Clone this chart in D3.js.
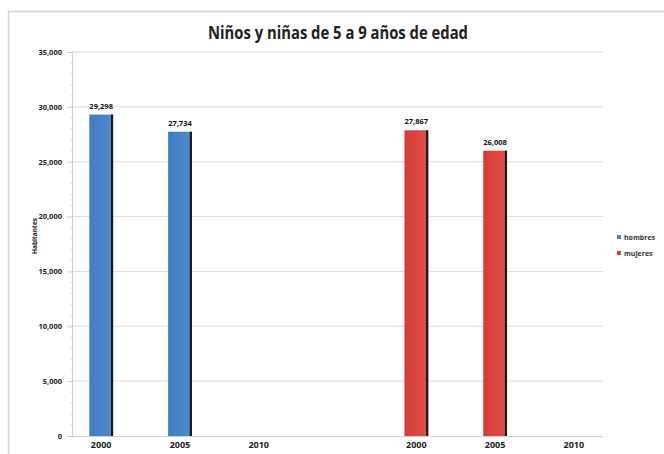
<!DOCTYPE html>
<html><head><meta charset="utf-8">
<script src="https://cdn.jsdelivr.net/npm/d3@7"></script>
<style>body{margin:0;background:#fff}svg{display:block}</style>
</head><body>
<svg id="c" width="664" height="454"></svg>
<script>
const categories = ["2000","2005","2010","","2000 ","2005 ","2010 "];
const catLabels = ["2000","2005","2010","","2000","2005","2010"];
const hombres = [29298, 27734, null, null, null, null, null];
const mujeres = [null, null, null, null, 27867, 26008, null];
const yTicks = [0,5000,10000,15000,20000,25000,30000,35000];
const seriesNames = ["hombres","mujeres"];
const colors = {hombres:"#4a86c8", mujeres:"#d9443f"};

const svg = d3.select("#c");
const mLeft=72,mRight=603,mTop=52,mBottom=436;

// frame
svg.append("rect").attr("x",8.5).attr("y",11.5).attr("width",700).attr("height",500)
  .attr("fill","none").attr("stroke","#d4d4d4").attr("stroke-width",1.5);

const defs = svg.append("defs");
function grad(id,c1,c2){
  const g=defs.append("linearGradient").attr("id",id).attr("x1","0").attr("x2","1").attr("y1","0").attr("y2","0");
  g.append("stop").attr("offset","0").attr("stop-color",c1);
  g.append("stop").attr("offset","1").attr("stop-color",c2);
}
grad("gh","#3f7cc0","#4f8dd0");
grad("gm","#d63c37","#e04f49");

const x = d3.scaleBand().domain(categories).range([mLeft,mRight]).paddingInner(0.7).paddingOuter(0.22);
const y = d3.scaleLinear().domain([0,35000]).range([mBottom,mTop]);

// gridlines
svg.append("g").selectAll("line").data(yTicks.slice(1)).join("line")
  .attr("x1",mLeft).attr("x2",mRight).attr("y1",d=>y(d)).attr("y2",d=>y(d))
  .attr("stroke","#dcdcdc").attr("stroke-width",1);

// y axis
const ya = svg.append("g").attr("transform",`translate(${mLeft},0)`)
  .call(d3.axisLeft(y).tickValues(yTicks).tickSize(5).tickFormat(d3.format(",")));
ya.select(".domain").attr("stroke","#cfcfcf");
ya.selectAll(".tick line").attr("stroke","#cfcfcf");
ya.selectAll(".tick text").attr("font-family","Open Sans, sans-serif").attr("font-size",7.5)
  .attr("font-weight","bold").attr("fill","#222").attr("x",-10);
// minor ticks
const minor = d3.range(0,35000,1000).filter(v=>v%5000!==0);
svg.append("g").selectAll("line").data(minor).join("line")
  .attr("x1",mLeft-2).attr("x2",mLeft).attr("y1",d=>y(d)).attr("y2",d=>y(d)).attr("stroke","#e2e2e2");

// x axis
const xa = svg.append("g").attr("transform",`translate(0,${mBottom})`)
  .call(d3.axisBottom(x).tickSize(0).tickFormat((d,i)=>catLabels[i]));
xa.select(".domain").attr("stroke","#cfcfcf").attr("d",`M${mLeft},0.5H${mRight}`);
xa.selectAll(".tick text").attr("font-family","Open Sans, sans-serif").attr("font-size",9)
  .attr("font-weight","bold").attr("fill","#222").attr("dy","1.05em");

// bars
function drawSeries(vals,name,gid){
  const data = categories.map((c,i)=>({c,v:vals[i]})).filter(d=>d.v!=null);
  const g = svg.append("g");
  g.selectAll("rect.b").data(data).join("rect").attr("class","b")
    .attr("x",d=>x(d.c)).attr("width",x.bandwidth())
    .attr("y",d=>y(d.v)).attr("height",d=>y(0)-y(d.v)).attr("fill",`url(#${gid})`);
  g.selectAll("rect.s").data(data).join("rect").attr("class","s")
    .attr("x",d=>x(d.c)+x.bandwidth()-2).attr("width",2.2)
    .attr("y",d=>y(d.v)).attr("height",d=>y(0)-y(d.v)).attr("fill","#1a1a1a");
  g.selectAll("text").data(data).join("text")
    .attr("x",d=>x(d.c)+x.bandwidth()/2).attr("y",d=>y(d.v)-6)
    .attr("text-anchor","middle").attr("font-family","Open Sans, sans-serif")
    .attr("font-size",7.5).attr("font-weight","bold").attr("fill","#111")
    .text(d=>d3.format(",")(d.v));
}
drawSeries(hombres,"hombres","gh");
drawSeries(mujeres,"mujeres","gm");

// title
svg.append("text").attr("x",338).attr("y",39).attr("text-anchor","middle")
  .attr("font-family","Open Sans, sans-serif").attr("font-weight","bold").attr("font-size",17)
  .attr("fill","#222").attr("textLength",260).attr("lengthAdjust","spacingAndGlyphs")
  .text("Niños y niñas de 5 a 9 años de edad");

// y title
svg.append("text").attr("transform","translate(37,236) rotate(-90)").attr("text-anchor","middle")
  .attr("font-family","Open Sans, sans-serif").attr("font-weight","bold").attr("font-size",6.5)
  .attr("fill","#222").text("Habitantes");

// legend
const lg = svg.append("g").selectAll("g").data(seriesNames).join("g")
  .attr("transform",(d,i)=>`translate(617,${238+i*16})`);
lg.append("rect").attr("x",0).attr("y",-3).attr("width",4).attr("height",4).attr("fill",d=>colors[d]);
lg.append("text").attr("x",7).attr("y",1.5).attr("font-family","Open Sans, sans-serif")
  .attr("font-size",7).attr("font-weight","bold").attr("fill","#333").text(d=>d);
</script>
</body></html>
